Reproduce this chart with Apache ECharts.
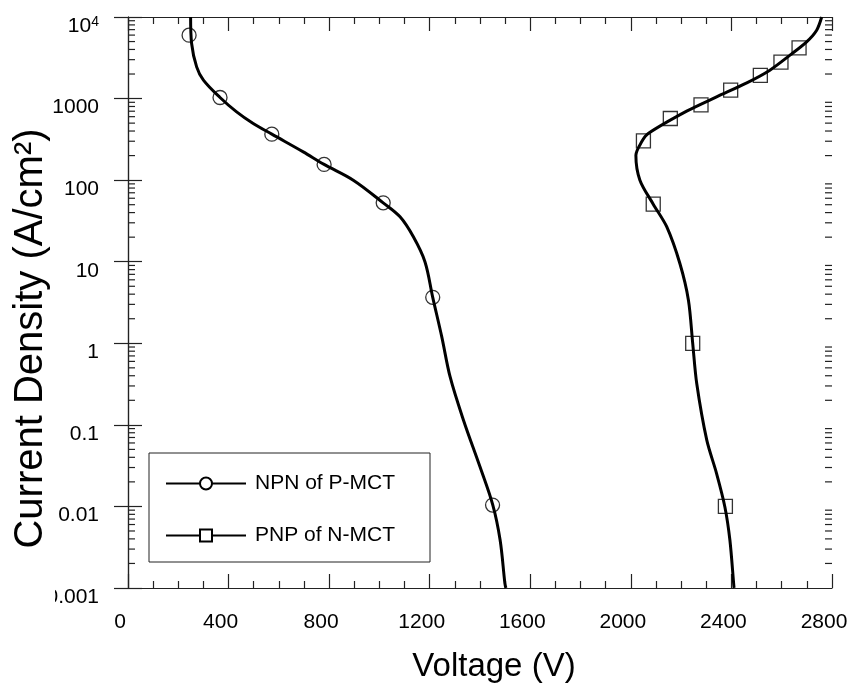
<!DOCTYPE html>
<html><head><meta charset="utf-8">
<script src="https://cdn.jsdelivr.net/npm/echarts@6/dist/echarts.min.js"></script>
<style>html,body{margin:0;padding:0;background:#fff}#c{width:849px;height:688px}</style>
</head><body><div id="c"></div>
<script>
// ---- data ----
const xTickValues = [0, 400, 800, 1200, 1600, 2000, 2400, 2800];
const yTickLabels = ['0.001', '0.01', '0.1', '1', '10', '100', '1000', '10^4'];

const npnName = 'NPN of P-MCT';
const pnpName = 'PNP of N-MCT';

const npnCurveV = [249, 253, 273, 300, 366, 432, 498, 572, 697, 780, 896, 1015, 1082, 1135, 1181, 1212, 1248, 1281, 1334, 1400, 1451, 1480, 1499, 1503];
const npnCurveJ = [10000, 4730, 2445, 1680, 1031, 687, 495, 366, 222, 156, 100, 52.7, 35.5, 20.2, 10, 3.66, 1.2, 0.389, 0.115, 0.0306, 0.0104, 0.00387, 0.00114, 0.001];

const npnMarkV = [243, 366, 572, 780, 1015, 1212, 1450];
const npnMarkJ = [5980, 1030, 366, 156, 52.7, 3.66, 0.0104];

const pnpCurveV = [2759, 2739, 2699, 2633, 2553, 2461, 2341, 2222, 2069, 2043, 2020, 2036, 2089, 2143, 2195, 2229, 2246, 2262, 2302, 2341, 2374, 2394, 2410, 2411];
const pnpCurveJ = [10000, 6890, 4955, 3404, 2230, 1557, 1049, 701, 373, 295, 202, 100, 50.8, 26.7, 9.5, 3.38, 1.0, 0.321, 0.0649, 0.0253, 0.00986, 0.00385, 0.00103, 0.001];

const pnpMarkV = [2669, 2597, 2515, 2397, 2279, 2157, 2050, 2089, 2246, 2376];
const pnpMarkJ = [4180, 2790, 1920, 1268, 837, 570, 303, 50.8, 1.0, 0.0100];

// ---- helpers ----
const zip = (a, b) => a.map((v, i) => [v, b[i]]);
const FONT = '"Liberation Sans", Arial, Helvetica, sans-serif';
const AX = '#222';

const yMinorValues = [];
for (let d = -3; d < 4; d++) {
  for (let m = 2; m <= 9; m++) yMinorValues.push([0, m * Math.pow(10, d)]);
}

const chart = echarts.init(document.getElementById('c'), null, {renderer: 'canvas'});

const xCommon = {
  type: 'value', min: 0, max: 2800, interval: 400,
  axisLine: {show: true, lineStyle: {color: AX, width: 1.2}},
  axisTick: {show: true, inside: true, length: 14, lineStyle: {color: AX, width: 1.2}},
  minorTick: {show: true, splitNumber: 4, length: 7, lineStyle: {color: AX, width: 1.2}},
  splitLine: {show: false}
};
const yCommon = {
  type: 'log', logBase: 10, min: 0.001, max: 10000,
  axisLine: {show: true, lineStyle: {color: AX, width: 1.2}},
  axisTick: {show: true, inside: true, length: 14, lineStyle: {color: AX, width: 1.2}},
  splitLine: {show: false}
};

const option = {
  animation: false,
  backgroundColor: '#fff',
  grid: {left: 128, right: 17, top: 17, bottom: 100, containLabel: false, outerBoundsMode: 'none'},
  xAxis: [
    Object.assign({}, xCommon, {
      position: 'bottom',
      name: 'Voltage (V)', nameLocation: 'middle', nameGap: 62,
      nameTextStyle: {fontSize: 33, color: '#000', fontFamily: FONT, padding: [0, 0, 0, 28]},
      axisLabel: {
        show: true, margin: 24, fontSize: 21, color: '#000', fontFamily: FONT,
        padding: [0, 16, 0, 0],
        formatter: v => String(v)
      }
    }),
    Object.assign({}, xCommon, {position: 'top', axisLabel: {show: false}})
  ],
  yAxis: [
    Object.assign({}, yCommon, {
      position: 'left',
      name: 'Current Density (A/cm²)', nameLocation: 'middle', nameGap: 77,
      nameMoveOverlap: false,
      nameTextStyle: {fontSize: 40, color: '#000', fontFamily: FONT, padding: [0, 72, 0, 0]},
      axisLabel: {
        show: true, margin: 29, fontSize: 21, color: '#000', fontFamily: FONT,
        padding: [18, 0, 0, 0],
        formatter: v => {
          const s = yTickLabels[Math.round(Math.log10(v)) + 3];
          if (s === '10^4') return '{b|10}{s|4}';
          return '{b|' + s + '}';
        },
        rich: {
          b: {fontSize: 21, color: '#000', fontFamily: FONT, lineHeight: 21, verticalAlign: 'bottom'},
          s: {fontSize: 14, color: '#000', fontFamily: FONT, lineHeight: 14, verticalAlign: 'top', padding: [0, 0, 12, 0]}
        }
      }
    }),
    Object.assign({}, yCommon, {position: 'right', axisLabel: {show: false}})
  ],
  legend: {
    data: [npnName, pnpName],
    orient: 'vertical', left: 149, top: 453,
    itemWidth: 80, itemHeight: 15, itemGap: 31,
    padding: [20, 35, 16, 16],
    borderColor: AX, borderWidth: 1,
    selectedMode: false,
    textStyle: {fontSize: 21, color: '#000', fontFamily: FONT, padding: [0, 0, 0, 4]}
  },
  series: [
    {
      name: npnName, type: 'line', data: zip(npnCurveV, npnCurveJ),
      xAxisIndex: 0, yAxisIndex: 0,
      smooth: 0.35, symbol: 'emptyCircle', symbolSize: 14, showSymbol: false,
      color: '#000', lineStyle: {color: '#000', width: 3}, silent: true, z: 3
    },
    {
      name: pnpName, type: 'line', data: zip(pnpCurveV, pnpCurveJ),
      xAxisIndex: 0, yAxisIndex: 0,
      smooth: 0.3, symbol: 'emptyRect', symbolSize: 14, showSymbol: false,
      color: '#000', lineStyle: {color: '#000', width: 3}, silent: true, z: 3
    },
    {
      name: 'npnMarkers', type: 'scatter', data: zip(npnMarkV, npnMarkJ),
      symbol: 'circle', symbolSize: 14, silent: true, z: 4,
      itemStyle: {color: 'rgba(0,0,0,0)', borderColor: '#000', borderWidth: 1.3}
    },
    {
      name: 'pnpMarkers', type: 'scatter', data: zip(pnpMarkV, pnpMarkJ),
      symbol: 'rect', symbolSize: 14, silent: true, z: 4,
      itemStyle: {color: 'rgba(0,0,0,0)', borderColor: '#000', borderWidth: 1.3}
    },
    {
      name: 'yMinorTicks', type: 'custom', data: yMinorValues, silent: true, z: 2,
      renderItem: (params, api) => {
        const v = api.value(1);
        const pl = api.coord([0, v]);
        const pr = api.coord([2800, v]);
        const st = {stroke: AX, lineWidth: 1.2};
        return {type: 'group', children: [
          {type: 'line', shape: {x1: pl[0], y1: pl[1], x2: pl[0] + 7, y2: pl[1]}, style: st},
          {type: 'line', shape: {x1: pr[0] - 7, y1: pr[1], x2: pr[0], y2: pr[1]}, style: st}
        ]};
      }
    }
  ],
  graphic: [
    {type: 'rect', left: 0, top: 580, shape: {width: 55, height: 28}, style: {fill: '#fff'}, z: 100, silent: true}
  ]
};
chart.setOption(option);
</script>
</body></html>
